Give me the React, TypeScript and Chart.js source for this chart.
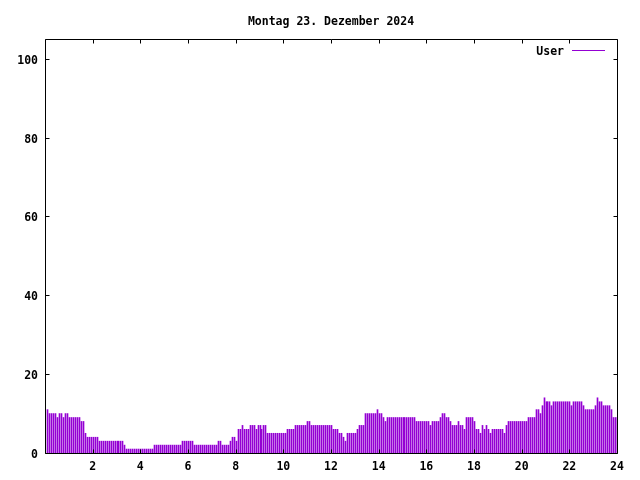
import React, { useEffect, useRef } from "react";
import { Chart, registerables } from "chart.js";

Chart.register(...registerables);

const TITLE = "Montag 23. Dezember 2024";
const SERIES_LABEL = "User";
const SERIES_COLOR = "#9400d3";
const FONT_FAMILY = "'DejaVu Sans Mono', 'Liberation Mono', monospace";
const FONT_SIZE = 11.5;

// one sample every 5 minutes, first sample at 00:05
const FIRST_MINUTE = 5;
const STEP_MINUTES = 5;

const X_MIN = 0;
const X_MAX = 24;
const X_STEP = 2;
const Y_MIN = 0;
const Y_MAX = 105;
const Y_STEP = 20;

// users online, one row per hour (12 samples each)
const users = [
  11, 10, 10, 10, 10, 9, 10, 10, 9, 10, 10, 9,
  9, 9, 9, 9, 9, 8, 8, 5, 4, 4, 4, 4,
  4, 4, 3, 3, 3, 3, 3, 3, 3, 3, 3, 3,
  3, 3, 3, 2, 1, 1, 1, 1, 1, 1, 1, 1,
  1, 1, 1, 1, 1, 1, 2, 2, 2, 2, 2, 2,
  2, 2, 2, 2, 2, 2, 2, 2, 3, 3, 3, 3,
  3, 3, 2, 2, 2, 2, 2, 2, 2, 2, 2, 2,
  2, 2, 3, 3, 2, 2, 2, 2, 3, 4, 4, 3,
  6, 6, 7, 6, 6, 6, 7, 7, 7, 6, 7, 7,
  6, 7, 7, 5, 5, 5, 5, 5, 5, 5, 5, 5,
  5, 6, 6, 6, 6, 7, 7, 7, 7, 7, 7, 8,
  8, 7, 7, 7, 7, 7, 7, 7, 7, 7, 7, 7,
  6, 6, 6, 5, 5, 4, 3, 5, 5, 5, 5, 5,
  6, 7, 7, 7, 10, 10, 10, 10, 10, 10, 11, 10,
  10, 9, 8, 9, 9, 9, 9, 9, 9, 9, 9, 9,
  9, 9, 9, 9, 9, 9, 8, 8, 8, 8, 8, 8,
  8, 7, 8, 8, 8, 8, 9, 10, 10, 9, 9, 8,
  7, 7, 7, 8, 7, 7, 6, 9, 9, 9, 9, 8,
  6, 6, 5, 7, 6, 7, 6, 5, 6, 6, 6, 6,
  6, 6, 5, 7, 8, 8, 8, 8, 8, 8, 8, 8,
  8, 8, 9, 9, 9, 9, 11, 11, 10, 12, 14, 13,
  13, 13, 12, 13, 13, 13, 13, 13, 13, 13, 13, 13,
  12, 13, 13, 13, 13, 13, 12, 11, 11, 11, 11, 11,
  12, 14, 13, 13, 12, 12, 12, 12, 11, 9, 9, 9,
];

const sampleHours = users.map((_, i) => (FIRST_MINUTE + i * STEP_MINUTES) / 60);

const TICK_LEN = 4;

const gnuplotPlugin = {
  id: "gnuplotFrame",
  afterDatasetUpdate(chart: any, args: any) {
    // snap 1px impulses onto whole pixel columns
    args.meta.data.forEach((el: any) => {
      el.x = Math.round(el.x) + 0.5;
    });
  },
  afterDraw(chart: any) {
    const { ctx, chartArea: a, scales } = chart;
    const L = a.left + 0.5;
    const R = a.right + 0.5;
    const T = a.top + 0.5;
    const B = a.bottom + 0.5;
    ctx.save();
    ctx.strokeStyle = "#000";
    ctx.lineWidth = 1;
    ctx.beginPath();
    ctx.rect(L, T, R - L, B - T);
    // y ticks, left and mirrored right
    scales.y.ticks.forEach((t: any) => {
      const py = Math.round(scales.y.getPixelForValue(t.value)) + 0.5;
      ctx.moveTo(L, py);
      ctx.lineTo(L + TICK_LEN, py);
      ctx.moveTo(R, py);
      ctx.lineTo(R - TICK_LEN, py);
    });
    // x ticks, bottom and mirrored top
    scales.x.ticks.forEach((t: any) => {
      const px = Math.round(scales.x.getPixelForValue(t.value)) + 0.5;
      ctx.moveTo(px, B);
      ctx.lineTo(px, B - TICK_LEN);
      ctx.moveTo(px, T);
      ctx.lineTo(px, T + TICK_LEN);
    });
    ctx.stroke();

    // legend, gnuplot style (key text then line sample), top right inside
    const ds = chart.data.datasets[0];
    ctx.font = `bold ${FONT_SIZE}px ${FONT_FAMILY}`;
    ctx.fillStyle = "#000";
    ctx.textAlign = "right";
    ctx.textBaseline = "middle";
    ctx.fillText(ds.label, a.right - 53, 52);
    ctx.strokeStyle = ds.backgroundColor;
    ctx.beginPath();
    ctx.moveTo(a.right - 45, 50.5);
    ctx.lineTo(a.right - 12, 50.5);
    ctx.stroke();
    ctx.restore();
  },
};

export default function App() {
  const canvasRef = useRef<HTMLCanvasElement | null>(null);

  useEffect(() => {
    const canvas = canvasRef.current;
    if (!canvas) return;
    const font = { family: FONT_FAMILY, size: FONT_SIZE, weight: "bold" as const, lineHeight: 1.2 };
    const chart = new Chart(canvas, {
      type: "bar",
      data: {
        datasets: [
          {
            label: SERIES_LABEL,
            data: users.map((v, i) => ({ x: sampleHours[i], y: v })),
            backgroundColor: SERIES_COLOR,
            borderWidth: 0,
            barThickness: 1,
          },
        ],
      },
      options: {
        responsive: false,
        animation: false,
        devicePixelRatio: 1,
        events: [],
        layout: { padding: { left: 0, right: 23, top: 0, bottom: 0 } },
        plugins: {
          legend: { display: false },
          tooltip: { enabled: false },
          title: {
            display: true,
            text: TITLE,
            color: "#000",
            font,
            fullSize: false,
            padding: { top: 15, bottom: 10.2 },
          },
        },
        scales: {
          x: {
            type: "linear",
            min: X_MIN,
            max: X_MAX,
            offset: false,
            grid: { display: false, drawTicks: false, offset: false },
            border: { display: false },
            ticks: {
              stepSize: X_STEP,
              autoSkip: false,
              maxRotation: 0,
              padding: 7,
              color: "#000",
              font,
              callback: (v: any) => (Number(v) === 0 ? "" : String(v)),
            },
            afterFit: (s: any) => {
              s.height = 27;
            },
          },
          y: {
            type: "linear",
            min: Y_MIN,
            max: Y_MAX,
            grid: { display: false, drawTicks: false },
            border: { display: false },
            ticks: {
              stepSize: Y_STEP,
              includeBounds: false,
              padding: 7,
              labelOffset: 2,
              color: "#000",
              font,
            },
            afterFit: (s: any) => {
              s.width = 45;
            },
          },
        },
      },
      plugins: [gnuplotPlugin],
    });
    return () => chart.destroy();
  }, []);

  return (
    <div style={{ position: "fixed", left: 0, top: 0, width: 640, height: 480, background: "#fff" }}>
      <canvas ref={canvasRef} width={640} height={480} style={{ display: "block" }} />
    </div>
  );
}
